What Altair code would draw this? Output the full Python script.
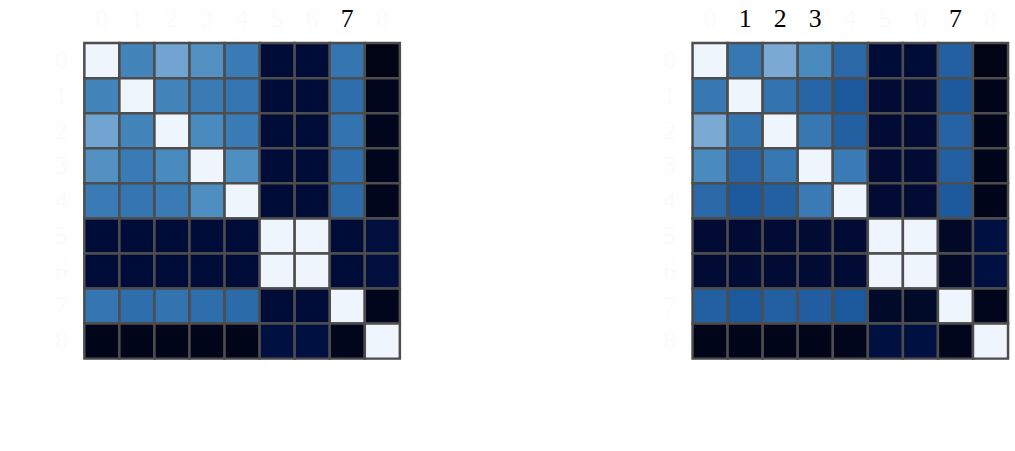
import altair as alt
import pandas as pd

labels = [str(i) for i in range(9)]

left_vals = [
    [1.00, 0.62, 0.74, 0.67, 0.58, 0.08, 0.08, 0.56, 0.00],
    [0.62, 1.00, 0.62, 0.58, 0.56, 0.08, 0.08, 0.53, 0.02],
    [0.74, 0.62, 1.00, 0.65, 0.58, 0.08, 0.08, 0.55, 0.02],
    [0.67, 0.58, 0.65, 1.00, 0.66, 0.08, 0.08, 0.53, 0.02],
    [0.58, 0.56, 0.58, 0.66, 1.00, 0.08, 0.08, 0.52, 0.02],
    [0.08, 0.08, 0.08, 0.08, 0.08, 1.00, 1.00, 0.08, 0.10],
    [0.08, 0.08, 0.08, 0.08, 0.08, 1.00, 1.00, 0.08, 0.10],
    [0.56, 0.53, 0.55, 0.53, 0.52, 0.08, 0.08, 1.00, 0.02],
    [0.01, 0.01, 0.01, 0.01, 0.01, 0.11, 0.11, 0.02, 1.00],
]

right_vals = [
    [1.00, 0.57, 0.76, 0.65, 0.51, 0.08, 0.08, 0.48, 0.00],
    [0.57, 1.00, 0.55, 0.50, 0.45, 0.07, 0.07, 0.45, 0.01],
    [0.76, 0.55, 1.00, 0.57, 0.48, 0.07, 0.07, 0.49, 0.01],
    [0.65, 0.50, 0.57, 1.00, 0.58, 0.07, 0.07, 0.48, 0.01],
    [0.51, 0.45, 0.48, 0.58, 1.00, 0.07, 0.07, 0.45, 0.01],
    [0.07, 0.07, 0.07, 0.07, 0.07, 1.00, 1.00, 0.04, 0.11],
    [0.07, 0.07, 0.07, 0.07, 0.07, 1.00, 1.00, 0.04, 0.11],
    [0.48, 0.45, 0.48, 0.47, 0.45, 0.05, 0.05, 1.00, 0.02],
    [0.01, 0.01, 0.01, 0.01, 0.02, 0.11, 0.11, 0.02, 1.00],
]

left_visible = ["7"]
right_visible = ["1", "2", "3", "7"]

color_domain = [0, 0.08, 0.12, 0.45, 0.55, 0.65, 0.75, 1.0]
color_range = ["#000414", "#000c38", "#001244", "#1c589c", "#3373b0",
               "#4a8bbf", "#75a7d2", "#eef5fd"]


def to_long(m):
    rows = []
    for i, row in enumerate(m):
        for j, v in enumerate(row):
            rows.append({"row": labels[i], "col": labels[j], "v": v})
    return pd.DataFrame(rows)


def panel(m, visible):
    arr = "[" + ",".join(f"'{v}'" for v in visible) + "]"
    lab_color = {
        "condition": {"test": f"indexof({arr}, datum.value) >= 0", "value": "#000000"},
        "value": "#fbfbfb",
    }
    return alt.Chart(to_long(m)).mark_rect(
        stroke="#4d4d4d", strokeWidth=2.5
    ).encode(
        x=alt.X("col:O", sort=labels, axis=alt.Axis(
            orient="top", title=None, labelAngle=0, domain=False, ticks=False,
            labelFont="Liberation Serif", labelFontSize=26, labelPadding=12,
            labelColor=lab_color)),
        y=alt.Y("row:O", sort=labels, axis=alt.Axis(
            title=None, domain=False, ticks=False,
            labelFont="Liberation Serif", labelFontSize=26, labelPadding=17,
            labelColor="#fbfbfb")),
        color=alt.Color("v:Q", scale=alt.Scale(domain=color_domain, range=color_range),
                        legend=None),
    ).properties(width=318, height=318)


chart = alt.hconcat(
    panel(left_vals, left_visible),
    panel(right_vals, right_visible),
    spacing=262,
).properties(
    padding={"left": 54, "top": 3, "right": 5, "bottom": 5}
).configure_view(stroke=None).configure(background="white")

chart.save("out.html", embed_options={"renderer": "svg", "actions": False})
